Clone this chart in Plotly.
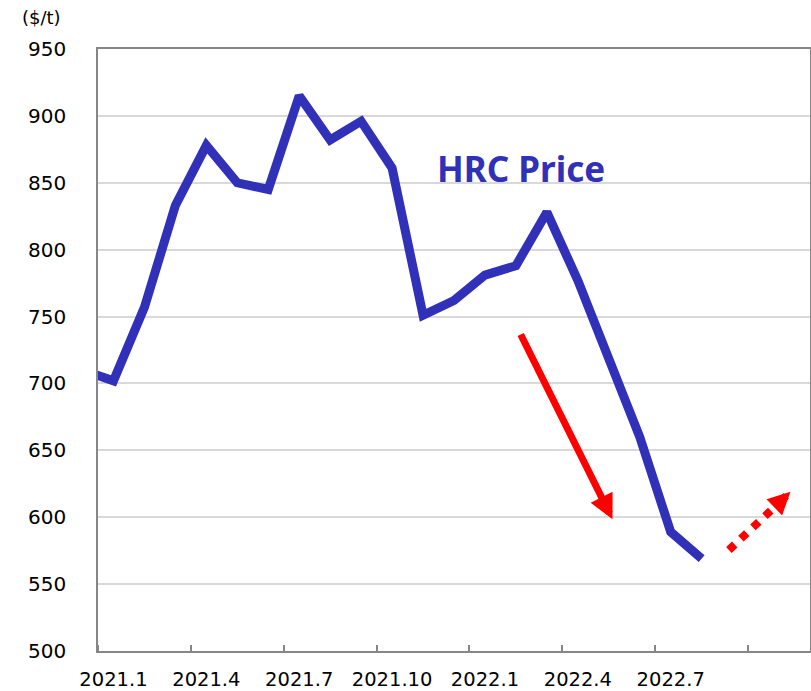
import plotly.graph_objects as go

# ---- data ----
months = ["2020.12", "2021.1", "2021.2", "2021.3", "2021.4", "2021.5", "2021.6",
          "2021.7", "2021.8", "2021.9", "2021.10", "2021.11", "2021.12",
          "2022.1", "2022.2", "2022.3", "2022.4", "2022.5", "2022.6", "2022.7",
          "2022.8"]
hrc_price = [710, 702, 757, 833, 878, 850, 845, 915, 882, 896, 861, 751, 762,
             781, 788, 828, 777, 719, 660, 589, 569]
tick_labels = ["2021.1", "2021.4", "2021.7", "2021.10", "2022.1", "2022.4", "2022.7"]
n_categories = 23          # category slots shown on the axis (2021.1 .. 2022.11)
y_ticks = [500, 550, 600, 650, 700, 750, 800, 850, 900, 950]

# arrows (data coordinates: category position, price)
down_arrow_tail = (13.63, 737.7)
down_arrow_tip = (16.62, 598.5)
up_arrow_tail = (20.38, 575.5)
up_arrow_base = (21.84, 607.3)
up_arrow_tip = (22.37, 619.1)
label_pos = (13.68, 860.5)

BLUE = "#3030B8"
RED = "#FF0000"
AXIS = "#868686"
GRID = "#D9D9D9"
FONT = "DejaVu Sans"

# each month occupies one category slot; 2021.1 slot spans [0, 1], points sit mid-slot
x_pos = [i - 0.5 for i in range(len(months))]   # 2020.12 at -0.5 (clipped)
label_pos_x = [months.index(m) - 0.5 for m in tick_labels]

fig = go.Figure()
fig.add_trace(go.Scatter(
    x=x_pos, y=hrc_price, mode="lines",
    line=dict(color=BLUE, width=9),
    hoverinfo="skip", showlegend=False,
))

fig.update_layout(
    width=811, height=691,
    margin=dict(l=98, r=1, t=49, b=40, autoexpand=False),
    paper_bgcolor="white", plot_bgcolor="white",
    font=dict(family=FONT, size=20, color="#000000"),
    xaxis=dict(
        range=[0, n_categories], tickmode="array",
        tickvals=label_pos_x, ticktext=tick_labels, automargin=False,
        showgrid=False, zeroline=False,
        showline=True, linecolor=AXIS, linewidth=1.5, mirror=True,
        ticks="",
        minor=dict(ticks="inside", tick0=0, dtick=3, ticklen=6, tickwidth=1.5,
                   tickcolor=AXIS, showgrid=False),
        tickfont=dict(family=FONT, size=19.5, color="#000000"),
        ticklabelstandoff=10,
    ),
    yaxis=dict(
        range=[500, 950], tickmode="array", tickvals=y_ticks, automargin=False,
        showgrid=True, gridcolor=GRID, gridwidth=1.5, zeroline=False,
        showline=True, linecolor=AXIS, linewidth=1.5, mirror=True,
        ticks="", tickfont=dict(family=FONT, size=20, color="#000000"),
        ticklabelstandoff=26,
    ),
)

# unit label
fig.add_annotation(
    xref="paper", yref="paper", x=-0.080, y=1.052,
    xanchor="center", yanchor="middle", showarrow=False,
    text="($/t)", font=dict(family=FONT, size=18, color="#000000"),
)

# series label
fig.add_annotation(
    x=label_pos[0], y=label_pos[1], xanchor="center", yanchor="middle",
    showarrow=False, text="<b>HRC Price</b>",
    font=dict(family="Noto Sans", size=35, color=BLUE),
)

# solid red arrow
fig.add_annotation(
    x=down_arrow_tip[0], y=down_arrow_tip[1],
    ax=down_arrow_tail[0], ay=down_arrow_tail[1],
    xref="x", yref="y", axref="x", ayref="y",
    text="", showarrow=True, arrowhead=2, arrowsize=0.7,
    arrowwidth=7, arrowcolor=RED, standoff=0,
)

# dotted red arrow: dotted shaft + head
fig.add_shape(
    type="line", xref="x", yref="y",
    x0=up_arrow_tail[0], y0=up_arrow_tail[1],
    x1=up_arrow_base[0], y1=up_arrow_base[1],
    line=dict(color=RED, width=8, dash="8px,8.5px"),
)
fig.add_annotation(
    x=up_arrow_tip[0], y=up_arrow_tip[1],
    ax=up_arrow_base[0], ay=up_arrow_base[1],
    xref="x", yref="y", axref="x", ayref="y",
    text="", showarrow=True, arrowhead=2, arrowsize=0.6,
    arrowwidth=7.5, arrowcolor=RED, standoff=0,
)

fig.write_html("out.html", config={"displayModeBar": False},
               post_script="document.body.style.margin='0';document.body.style.overflow='hidden';")
